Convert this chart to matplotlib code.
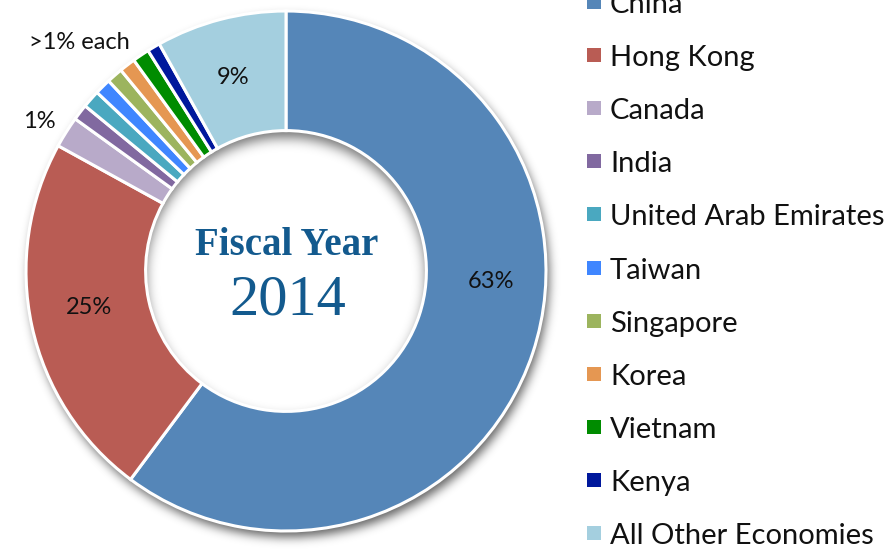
import numpy as np
import matplotlib
matplotlib.use("Agg")
import matplotlib.pyplot as plt
from matplotlib.patches import Rectangle

# ---------------- data ----------------
economies = ["China", "Hong Kong", "Canada", "India", "United Arab Emirates",
             "Taiwan", "Singapore", "Korea", "Vietnam", "Kenya",
             "All Other Economies"]
shares = [60.2, 22.8, 1.95, 1.0, 1.1, 1.0, 1.0, 1.0, 1.05, 0.8, 8.1]
colors = ["#5586b8", "#b95c54", "#b8aac9", "#8169a0", "#4aa8c0",
          "#3f86ff", "#9cb45e", "#e59752", "#008c00", "#00189c", "#a4cfdf"]
pct_labels = ["63%", "25%", "9%", "1%", ">1% each"]
center_line1 = "Fiscal Year"
center_line2 = "2014"

# ---------------- layout (pixels) ----------------
W, H = 888, 553
CX, CY, R = 286.0, 271.0, 260.0
RIN = 0.54

def px2d(px, py):
    return (px - CX) / R, (CY - py) / R

fig = plt.figure(figsize=(W / 100, H / 100), dpi=100)
fig.patch.set_facecolor("white")
ax = fig.add_axes([0, 0, 1, 1])
x0, y1 = px2d(0, 0)
x1, y0 = px2d(W, H)

# ---------------- shadows ----------------
yy, xx = np.mgrid[0:H, 0:W]
xd = (xx + 0.5 - CX) / R
yd = (CY - (yy + 0.5)) / R
r = np.hypot(xd, yd)

def blur(a, sigma):
    n = int(3 * sigma)
    k = np.exp(-0.5 * (np.arange(-n, n + 1) / sigma) ** 2)
    k /= k.sum()
    a = np.apply_along_axis(lambda v: np.convolve(v, k, mode="same"), 0, a)
    a = np.apply_along_axis(lambda v: np.convolve(v, k, mode="same"), 1, a)
    return a

# outer drop shadow (offset right/down)
sx, sy = 3 / R, 6 / R
disc_s = (np.hypot(xd - sx, yd + sy) <= 1.0).astype(float)
outer = blur(disc_s, 5.0) * 0.62
# inner shadow inside the hole (cast downward by the ring)
s2 = 7 / R
caster = (np.hypot(xd, yd + s2) >= RIN).astype(float)
inner = blur(caster, 6.0) * 0.55

alpha = np.where(r >= 1.0, outer, 0.0) + np.where(r < RIN, inner, 0.0)
img = np.zeros((H, W, 4))
img[..., 3] = np.clip(alpha, 0, 1)
ax.imshow(img, extent=(x0, x1, y0, y1), origin="upper", zorder=0,
          interpolation="bilinear")

# ---------------- donut ----------------
ax.pie(shares, colors=colors, startangle=90, counterclock=False, radius=1.0,
       wedgeprops=dict(width=1 - RIN, edgecolor="white", linewidth=2.2),
       center=(0, 0))

ax.set_xlim(x0, x1)
ax.set_ylim(y0, y1)
ax.set_aspect("auto")
ax.axis("off")

# ---------------- labels ----------------
lab_font = dict(family=["Lato", "DejaVu Sans"], fontsize=17, color="#111111",
                ha="center", va="center")
for txt, (px, py) in zip(pct_labels, [(491, 281), (89, 307), (233, 77),
                                       (39, 121), (79, 42)]):
    ax.text(*px2d(px, py), txt, **lab_font)

ax.text(*px2d(287, 245), center_line1, family=["Liberation Serif"],
        fontweight="bold", fontsize=28, color="#135a8e",
        ha="center", va="center")
ax.text(*px2d(288, 300), center_line2, family=["Liberation Serif"],
        fontsize=42, color="#135a8e", ha="center", va="center")

# ---------------- legend ----------------
sq = 14 / R
for i, (name, c) in enumerate(zip(economies, colors)):
    py = 2 + i * 53.1
    lx, ly = px2d(594, py)
    ax.add_patch(Rectangle((lx - sq / 2, ly - sq / 2), sq, sq, facecolor=c,
                           edgecolor="none", zorder=3, clip_on=False))
    ax.text(*px2d(610, py + 3), name, family=["Lato", "DejaVu Sans"],
            fontsize=21, color="#111111", ha="left", va="center")

fig.savefig("out.png", dpi=100, facecolor="white")
